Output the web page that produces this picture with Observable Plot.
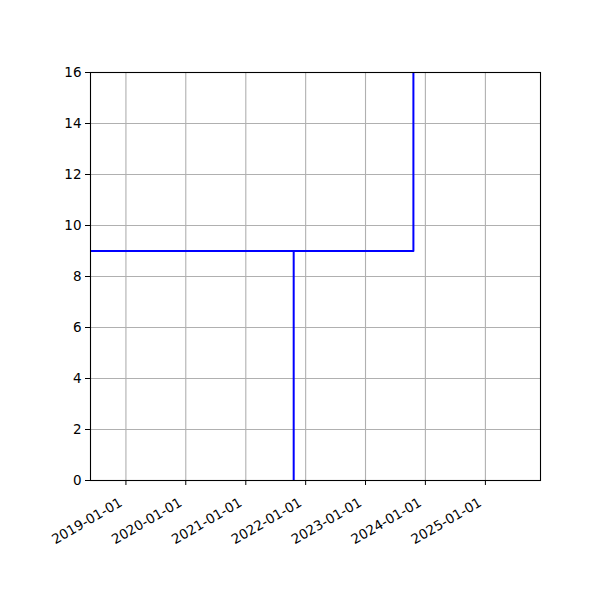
<!DOCTYPE html>
<html>
<head>
<meta charset="utf-8">
<script src="https://cdn.jsdelivr.net/npm/d3@7"></script>
<script src="https://cdn.jsdelivr.net/npm/@observablehq/plot@0.6"></script>
<style>
  html, body { margin: 0; padding: 0; background: #fff; }
  svg { font-family: "DejaVu Sans", sans-serif; }
</style>
</head>
<body>
<div id="chart"></div>
<script>
// Line path (date, value); parts outside the axes are clipped
const lineDates = ["2021-10-20", "2021-10-20", "2018-01-01", "2023-10-20", "2023-10-20"];
const lineValues = [0, 9, 9, 9, 18];

// Axes
const xDomain = ["2018-05-30", "2025-12-03"];
const yDomain = [0, 16];
const xTickLabels = ["2019-01-01", "2020-01-01", "2021-01-01", "2022-01-01", "2023-01-01", "2024-01-01", "2025-01-01"];
const yTicks = [0, 2, 4, 6, 8, 10, 12, 14, 16];

const parse = d3.utcParse("%Y-%m-%d");
const data = lineDates.map((d, i) => ({date: parse(d), value: lineValues[i]}));
const xTicks = xTickLabels.map(parse);

const chart = Plot.plot({
  width: 600,
  height: 600,
  marginLeft: 90,
  marginRight: 60,
  marginTop: 72,
  marginBottom: 120,
  style: {fontFamily: "DejaVu Sans, sans-serif", fontSize: "13.5px", color: "#000", background: "#fff"},
  x: {type: "utc", domain: xDomain.map(parse)},
  y: {domain: yDomain},
  marks: [
    Plot.gridX(xTicks, {stroke: "#b0b0b0", strokeOpacity: 1, strokeWidth: 1.1}),
    Plot.gridY(yTicks, {stroke: "#b0b0b0", strokeOpacity: 1, strokeWidth: 1.1}),
    Plot.line(data, {x: "date", y: "value", stroke: "#0000ff", strokeWidth: 2, clip: true}),
    Plot.frame({stroke: "#000", strokeWidth: 1.1}),
    Plot.axisX({ticks: xTicks, tickFormat: () => "", tickSize: 5, label: null, stroke: "#000"}),
    Plot.axisX({ticks: xTicks, tickFormat: d3.utcFormat("%Y-%m-%d"), tickSize: 0, tickPadding: 16, tickRotate: -30, dx: -5, dy: 5, label: null}),
    Plot.axisY({ticks: yTicks, tickSize: 5, tickPadding: 4, label: null, stroke: "#000"})
  ]
});
document.getElementById("chart").appendChild(chart);
</script>
</body>
</html>
